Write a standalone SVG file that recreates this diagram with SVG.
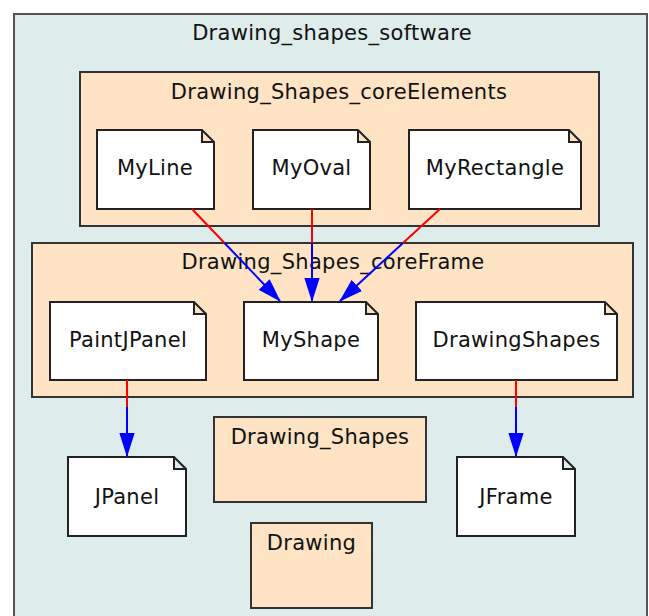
<svg xmlns="http://www.w3.org/2000/svg" width="649" height="616" viewBox="0 0 649 616">
<style>
.t{font-family:"DejaVu Sans","Liberation Sans",sans-serif;font-size:21px;letter-spacing:0.3px;fill:#111;text-anchor:middle}
.cl{fill:#fee3c4;stroke:#333;stroke-width:2}
.nd{fill:#fff;stroke:#222;stroke-width:2}
.r{stroke:#f00;stroke-width:2;fill:none}
.b{stroke:#00f;stroke-width:2;fill:none}
</style>
<defs>
<marker id="ah" markerUnits="userSpaceOnUse" markerWidth="24" markerHeight="16" viewBox="0 0 22 14" refX="21" refY="7" orient="auto">
<path d="M0,0 L22,7 L0,14 z" fill="#00f"/>
</marker>
</defs>
<g id="Drawing_shapes_software">
<rect x="14" y="14" width="633" height="612" fill="#deeceb" stroke="#555" stroke-width="2"/>
<text class="t" x="332" y="40">Drawing_shapes_software</text>
</g>
<g id="Drawing_Shapes_coreElements">
<rect class="cl" x="80" y="72" width="519" height="154"/>
<text class="t" x="339" y="99">Drawing_Shapes_coreElements</text>
</g>
<g id="Drawing_Shapes_coreFrame">
<rect class="cl" x="32" y="243" width="601" height="154"/>
<text class="t" x="333" y="269">Drawing_Shapes_coreFrame</text>
</g>
<g id="Drawing_Shapes">
<rect class="cl" x="214" y="417" width="212" height="85"/>
<text class="t" x="320" y="444">Drawing_Shapes</text>
</g>
<g id="Drawing">
<rect class="cl" x="251" y="523" width="121" height="85"/>
<text class="t" x="311.5" y="550">Drawing</text>
</g>
<g id="MyLine">
<path class="nd" d="M97,130 H202 L214,142 V209 H97 Z M202,130 V142 H214"/>
<text class="t" x="155" y="175">MyLine</text>
</g>
<g id="MyOval">
<path class="nd" d="M253,130 H358 L370,142 V209 H253 Z M358,130 V142 H370"/>
<text class="t" x="311.5" y="175">MyOval</text>
</g>
<g id="MyRectangle">
<path class="nd" d="M409,130 H569 L581,142 V209 H409 Z M569,130 V142 H581"/>
<text class="t" x="495" y="175">MyRectangle</text>
</g>
<g id="PaintJPanel">
<path class="nd" d="M50,302 H194 L206,314 V380 H50 Z M194,302 V314 H206"/>
<text class="t" x="128" y="347">PaintJPanel</text>
</g>
<g id="MyShape">
<path class="nd" d="M244,302 H366 L378,314 V380 H244 Z M366,302 V314 H378"/>
<text class="t" x="311" y="347">MyShape</text>
</g>
<g id="DrawingShapes">
<path class="nd" d="M416,302 H605 L617,314 V380 H416 Z M605,302 V314 H617"/>
<text class="t" x="516.5" y="347">DrawingShapes</text>
</g>
<g id="JPanel">
<path class="nd" d="M68,457 H174 L186,469 V536 H68 Z M174,457 V469 H186"/>
<text class="t" x="127" y="504">JPanel</text>
</g>
<g id="JFrame">
<path class="nd" d="M457,457 H563 L575,469 V536 H457 Z M563,457 V469 H575"/>
<text class="t" x="516" y="504">JFrame</text>
</g>
<g id="connectors">
<path class="r" d="M192,209 L224.5,243"/>
<path class="b" d="M224.5,243 L280,301" marker-end="url(#ah)"/>
<path class="r" d="M312,209 V243"/>
<path class="b" d="M312,243 V301" marker-end="url(#ah)"/>
<path class="r" d="M440,209 L403,243"/>
<path class="b" d="M403,243 L340,301" marker-end="url(#ah)"/>
<path class="r" d="M127,380 V407"/>
<path class="b" d="M127,407 V456" marker-end="url(#ah)"/>
<path class="r" d="M516,380 V407"/>
<path class="b" d="M516,407 V456" marker-end="url(#ah)"/>
</g>
</svg>
